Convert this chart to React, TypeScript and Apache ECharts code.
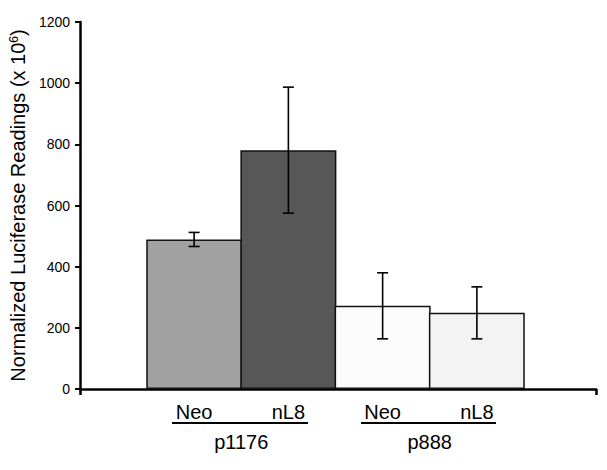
import React, { useEffect, useRef } from "react";
import * as echarts from "echarts";

const categories = ["Neo", "nL8", "Neo", "nL8"];
const groups = ["p1176", "p888"];
const means = [489, 781, 272, 249];
const errors = [23, 206, 108, 85];
const barColors = ["#a1a1a1", "#575757", "#fcfcfc", "#f3f3f3"];
const yTicks = { min: 0, max: 1200, interval: 200 };

const FONT = '"Liberation Sans", Arial, Helvetica, sans-serif';

export default function App() {
  const ref = useRef<HTMLDivElement>(null);
  useEffect(() => {
    if (!ref.current) return;
    const chart = echarts.init(ref.current, null, { renderer: "svg" });
    const barData = means.map((v, i) => ({
      value: v,
      itemStyle: { color: barColors[i], borderColor: "#111", borderWidth: 1.5 },
    }));
    const errData = means.map((v, i) => [i, v - errors[i], v + errors[i]]);
    chart.setOption({
      animation: false,
      textStyle: { fontFamily: FONT },
      grid: [
        { left: 147, width: 377, top: 22, bottom: 81 },
        { left: 76, right: 11, top: 22, bottom: 81 },
      ],
      xAxis: [
        {
          type: "category",
          gridIndex: 0,
          data: categories,
          boundaryGap: true,
          axisLine: { show: false },
          axisTick: { show: false },
          axisLabel: { color: "#000", fontSize: 20, fontFamily: FONT, margin: 13 },
        },
        {
          type: "category",
          gridIndex: 0,
          position: "bottom",
          data: groups,
          axisLine: { show: false },
          axisTick: { show: false },
          axisLabel: { color: "#000", fontSize: 20, fontFamily: FONT, margin: 43 },
        },
        {
          type: "value",
          gridIndex: 1,
          min: 0,
          max: 1,
          interval: 1,
          axisLine: { show: true, lineStyle: { color: "#000", width: 2.5 } },
          axisTick: { show: true, length: 6, lineStyle: { color: "#000", width: 2.5 } },
          axisLabel: { show: false },
          splitLine: { show: false },
        },
      ],
      yAxis: [
        {
          type: "value",
          gridIndex: 0,
          min: yTicks.min,
          max: yTicks.max,
          interval: yTicks.interval,
          show: false,
          splitLine: { show: false },
        },
        {
          type: "value",
          gridIndex: 1,
          min: yTicks.min,
          max: yTicks.max,
          interval: yTicks.interval,
          axisLine: { show: true, lineStyle: { color: "#000", width: 2.5 } },
          axisTick: { show: true, length: 5, lineStyle: { color: "#000", width: 2 } },
          axisLabel: {
            color: "#000",
            fontSize: 14,
            fontFamily: FONT,
            margin: 10,
            formatter: (v: number) => String(v),
          },
          splitLine: { show: false },
          name: "{a|Normalized Luciferase Readings (x 10}{s|6}{a|)}",
          nameLocation: "middle",
          nameGap: 46,
          nameTextStyle: {
            color: "#000",
            fontFamily: FONT,
            rich: {
              a: { fontSize: 20, color: "#000", fontFamily: FONT },
              s: { fontSize: 12, color: "#000", fontFamily: FONT, verticalAlign: "top" },
            },
          },
        },
      ],
      series: [
        {
          type: "bar",
          xAxisIndex: 0,
          yAxisIndex: 0,
          data: barData,
          barWidth: 96,
          barCategoryGap: 0,
        },
        {
          type: "custom",
          xAxisIndex: 0,
          yAxisIndex: 0,
          data: errData,
          z: 5,
          renderItem: (params: any, api: any) => {
            const x = api.value(0);
            const lo = api.coord([x, api.value(1)]);
            const hi = api.coord([x, api.value(2)]);
            const hw = 5.5;
            const st = { stroke: "#000", lineWidth: 1.6 };
            return {
              type: "group",
              children: [
                { type: "line", shape: { x1: hi[0], y1: hi[1], x2: lo[0], y2: lo[1] }, style: st },
                { type: "line", shape: { x1: hi[0] - hw, y1: hi[1], x2: hi[0] + hw, y2: hi[1] }, style: st },
                { type: "line", shape: { x1: lo[0] - hw, y1: lo[1], x2: lo[0] + hw, y2: lo[1] }, style: st },
              ],
            };
          },
        },
      ],
      graphic: [
        { type: "line", shape: { x1: 172, y1: 423, x2: 308, y2: 423 }, style: { stroke: "#000", lineWidth: 2 } },
        { type: "line", shape: { x1: 361, y1: 423, x2: 496, y2: 423 }, style: { stroke: "#000", lineWidth: 2 } },
      ],
    });
    return () => chart.dispose();
  }, []);
  return (
    <div
      ref={ref}
      style={{ position: "absolute", left: 0, top: 0, width: 607, height: 470, background: "#fff" }}
    />
  );
}
